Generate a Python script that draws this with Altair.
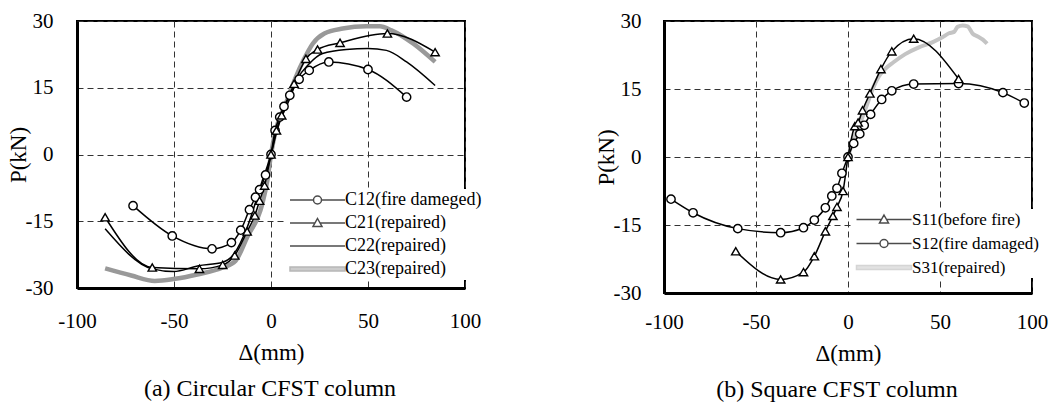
import altair as alt
import pandas as pd

FONT = "Liberation Serif"

# ---------------- Panel (a): circular CFST column ----------------
c12_x = [-71.1, -50.9, -30.4, -20.4, -15.6, -11.1, -8.0, -5.9, -2.8, 0.0, 2.1, 4.5, 6.7, 9.7, 14.5, 19.7, 29.8, 50.0, 69.9]
c12_y = [-11.5, -18.3, -21.2, -19.8, -17.0, -12.4, -9.6, -7.9, -4.6, 0.0, 5.4, 8.4, 10.8, 13.3, 16.9, 18.9, 20.8, 19.1, 12.9]

c21_x = [-85.5, -61.2, -36.9, -24.9, -18.7, -12.3, -8.3, -5.9, -3.3, 0.0, 2.8, 5.5, 11.9, 18.0, 24.0, 35.6, 60.0, 84.6]
c21_y = [-14.1, -25.4, -25.7, -24.8, -22.7, -17.3, -13.7, -10.4, -7.0, 0.0, 5.4, 8.8, 15.9, 21.5, 23.6, 25.1, 27.2, 23.0]

c22_x = [-85.5, -61.2, -50.3, -37.4, -24.9, -19.2, -12.3, -4.5, 0.0, 3.3, 9.3, 13.7, 19.7, 26.6, 38.8, 50.0, 59.5, 69.9, 84.6]
c22_y = [-16.7, -25.7, -26.3, -25.0, -24.2, -22.4, -16.4, -5.9, 0.0, 5.8, 12.2, 17.0, 20.4, 22.7, 23.6, 23.8, 23.4, 20.8, 15.5]

c23_x = [-85.5, -72.0, -59.9, -50.3, -37.4, -24.9, -18.3, -12.3, -4.5, -1.9, 0.0, 2.4, 7.6, 12.8, 17.1, 21.5, 27.5, 37.0, 49.1, 56.1, 62.1, 73.4, 84.6]
c23_y = [-25.6, -27.2, -28.4, -28.0, -26.9, -25.4, -23.9, -18.6, -11.1, -5.9, 0.0, 5.4, 11.4, 17.4, 21.5, 24.9, 27.2, 28.3, 28.8, 28.8, 27.9, 24.9, 20.8]

# ---------------- Panel (b): square CFST column ----------------
s11_x = [-61.0, -36.6, -24.2, -18.3, -12.3, -8.2, -6.0, -2.7, 0.0, 3.7, 5.5, 7.9, 11.9, 17.9, 23.8, 35.7, 60.1]
s11_y = [-20.8, -27.0, -25.4, -21.9, -16.4, -13.0, -11.0, -7.5, 0.0, 6.8, 7.6, 10.3, 14.0, 19.4, 23.3, 26.1, 17.2]

s12_x = [-96.2, -84.2, -59.9, -36.6, -24.2, -18.3, -12.3, -8.8, -6.0, -3.3, 0.0, 3.1, 6.4, 8.8, 12.3, 18.3, 23.8, 35.7, 60.1, 84.2, 95.8]
s12_y = [-9.3, -12.3, -15.8, -16.7, -15.6, -13.9, -11.2, -8.6, -6.9, -3.6, 0.0, 3.0, 5.1, 7.0, 9.4, 12.7, 14.6, 16.1, 16.2, 14.2, 11.9]

s31_x = [0.0, 2.7, 6.4, 10.1, 13.7, 16.5, 20.1, 24.7, 31.1, 38.5, 45.8, 51.3, 54.9, 57.7, 59.5, 62.3, 65.0, 67.8, 70.5, 73.3, 75.6]
s31_y = [0.0, 3.5, 7.2, 11.3, 15.3, 17.6, 19.4, 20.9, 22.7, 24.2, 25.3, 26.4, 27.3, 27.6, 28.7, 29.0, 28.8, 27.2, 26.6, 25.9, 25.0]

x_ticks = [-100, -50, 0, 50, 100]
y_ticks = [-30, -15, 0, 15, 30]

names_a = ["C12(fire dameged)", "C21(repaired)", "C22(repaired)", "C23(repaired)"]
names_b = ["S11(before fire)", "S12(fire damaged)", "S31(repaired)"]


def frame(series):
    rows = []
    for name, xs, ys in series:
        for i, (x, y) in enumerate(zip(xs, ys)):
            rows.append({"x": x, "y": y, "series": name, "i": i})
    return pd.DataFrame(rows)


df_a = frame([(names_a[0], c12_x, c12_y), (names_a[1], c21_x, c21_y),
              (names_a[2], c22_x, c22_y), (names_a[3], c23_x, c23_y)])
df_b = frame([(names_b[0], s11_x, s11_y), (names_b[1], s12_x, s12_y),
              (names_b[2], s31_x, s31_y)])

# legend glyphs: line (length 11 units = 55 px at size 100) with marker in the middle
CIRC = "M-1,0L3.7,0M5.3,0L10,0M5.3,0A0.8,0.8,0,1,1,3.7,0A0.8,0.8,0,1,1,5.3,0Z"
TRI = "M-1,0L3.99,0M5.01,0L10,0M4.5,-0.9L5.4,0.7L3.6,0.7Z"
LINE = "M-1,0L10,0"
THICK = "M-1,-0.4L10,-0.4L10,0.4L-1,0.4Z"
SYM_SIZE = 100

NEG = "datum.value < 0 ? '-' + abs(datum.value) : '' + datum.value"


def panel(df, names, strokes, fills, glyphs, gray_names, gray_w, circ_names, tri_names,
          w, h, lx, ly, lfont, loff, lrow, xlab_pad, ylab_pad, caption, cap_dx):
    leg = alt.Legend(title=None, orient="none", legendX=lx, legendY=ly,
                     fillColor="white", padding=2, labelFont=FONT, labelFontSize=lfont,
                     labelColor="black", labelOffset=loff, rowPadding=lrow,
                     symbolSize=SYM_SIZE, symbolStrokeWidth=1.5)
    stroke = alt.Stroke("series:N", scale=alt.Scale(domain=names, range=strokes), legend=leg)
    xenc = alt.X("x:Q", scale=alt.Scale(domain=[-100, 100], nice=False),
                 axis=alt.Axis(values=x_ticks, title="Δ(mm)", labelPadding=xlab_pad,
                               titlePadding=10, labelExpr=NEG, labelFlush=False))
    yenc = alt.Y("y:Q", scale=alt.Scale(domain=[-30, 30], nice=False),
                 axis=alt.Axis(values=y_ticks, title="P(kN)", labelPadding=ylab_pad,
                               titlePadding=-5, labelExpr=NEG, labelFlush=False))
    base = alt.Chart(df)
    black_names = [n for n in names if n not in gray_names]
    gray = base.transform_filter(alt.FieldOneOfPredicate(field="series", oneOf=gray_names)).mark_line(
        interpolate="monotone", strokeWidth=gray_w
    ).encode(x=xenc, y=yenc, stroke=stroke, order="i:Q")
    black = base.transform_filter(alt.FieldOneOfPredicate(field="series", oneOf=black_names)).mark_line(
        interpolate="monotone", strokeWidth=1.5
    ).encode(x="x:Q", y="y:Q", stroke=stroke, order="i:Q")
    circ = base.transform_filter(alt.FieldOneOfPredicate(field="series", oneOf=circ_names)).mark_point(
        shape="circle", size=70, fill="white", stroke="black", strokeWidth=1.4, opacity=1
    ).encode(x="x:Q", y="y:Q")
    tri = base.transform_filter(alt.FieldOneOfPredicate(field="series", oneOf=tri_names)).mark_point(
        shape="triangle-up", size=70, fill="white", stroke="black", strokeWidth=1.4, opacity=1
    ).encode(x="x:Q", y="y:Q")
    dummy = base.transform_filter("false").mark_point(filled=True, size=SYM_SIZE, strokeWidth=1.5).encode(
        x="x:Q", y="y:Q", stroke=stroke,
        fill=alt.Fill("series:N", scale=alt.Scale(domain=names, range=fills), legend=leg),
        shape=alt.Shape("series:N", scale=alt.Scale(domain=names, range=glyphs), legend=leg))
    return alt.layer(gray, black, circ, tri, dummy).properties(
        width=w, height=h,
        title=alt.TitleParams(caption, orient="bottom", font=FONT, fontSize=24,
                              fontWeight="normal", color="black", offset=13, dx=cap_dx))


left = panel(df_a, names_a, ["black", "black", "black", "#999999"],
             ["white", "white", "white", "#999999"],
             [CIRC, TRI, LINE, THICK], [names_a[3]], 4.5, [names_a[0]], [names_a[1]],
             388, 267, 207, 168, 18, 41, 5, 22, 24, "(a) Circular CFST column", -1)
right = panel(df_b, names_b, ["black", "black", "#c4c4c4"],
              ["white", "white", "#c4c4c4"],
              [TRI, CIRC, THICK], [names_b[2]], 4.0, [names_b[1]], [names_b[0]],
              368, 272, 187, 188, 17, 42, 6, 18, 23, "(b) Square CFST column", -11)

chart = alt.hconcat(left, right, spacing=109).resolve_scale(
    stroke="independent", fill="independent", shape="independent"
).configure(font=FONT).configure_view(
    stroke="black", strokeWidth=2
).configure_axis(
    labelFont=FONT, labelFontSize=21, labelColor="black",
    titleFont=FONT, titleFontSize=23, titleFontWeight="normal", titleColor="black",
    ticks=False, domainColor="black", domainWidth=3,
    grid=True, gridColor="#333333", gridDash=[6, 4], gridWidth=1
).configure_axisX(labelAngle=0).properties(
    padding={"left": 6, "top": 9, "right": 0, "bottom": 2}
)

chart.save("out.html", embed_options={"renderer": "svg", "actions": False})
